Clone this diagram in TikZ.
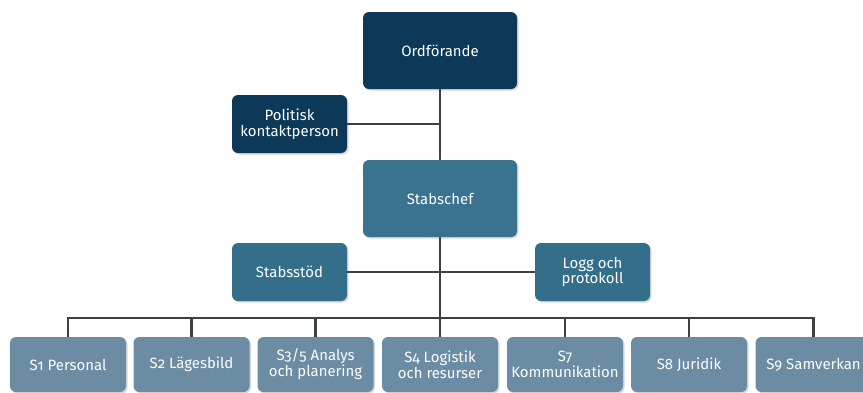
\documentclass[tikz,border=0pt]{standalone}
\usepackage{fontspec}
\setmainfont{Fira Sans}[Numbers=OldStyle]
\usetikzlibrary{shadows}
\definecolor{navy}{HTML}{0B3957}
\definecolor{midblue}{HTML}{3A7390}
\definecolor{supblue}{HTML}{336F8A}
\definecolor{lightblue}{HTML}{6B8CA3}
\definecolor{linegray}{HTML}{3B4144}
\tikzset{
  box/.style={draw=none, rounded corners=6bp, text=white, align=center,
    font=\fontsize{15}{16}\selectfont, inner sep=1bp,
    drop shadow={opacity=0.3, shadow xshift=1.5bp, shadow yshift=-1.5bp}},
  bigbox/.style={box, fill=navy, minimum width=154bp, minimum height=77bp},
  chiefbox/.style={box, fill=midblue, minimum width=154bp, minimum height=77bp},
  sidebox/.style={box, minimum width=115bp, minimum height=58bp},
  unitbox/.style={box, fill=lightblue, minimum width=116bp, minimum height=55bp},
  conn/.style={draw=linegray, line width=2.6bp}
}
\begin{document}
\begin{tikzpicture}[x=1bp,y=-1bp]
\useasboundingbox (0,0) rectangle (863,392);
\node[bigbox] (ord) at (440,50.5) {Ordförande};
\node[sidebox, fill=navy] (pol) at (289.5,124) {Politisk\\kontaktperson};
\node[chiefbox] (chef) at (440,198.5) {Stabschef};
\node[sidebox, fill=supblue] (stod) at (289.5,272) {Stabsstöd};
\node[sidebox, fill=supblue] (logg) at (592.5,272) {Logg och\\protokoll};
\node[unitbox] (s1) at (68,364.5) {S1 Personal};
\node[unitbox] (s2) at (191.5,364.5) {S2 Lägesbild};
\node[unitbox] (s3) at (315.5,364.5) {S3/5 Analys\\och planering};
\node[unitbox] (s4) at (440,364.5) {S4 Logistik\\och resurser};
\node[unitbox] (s7) at (565,364.5) {S7\\Kommunikation};
\node[unitbox] (s8) at (689,364.5) {S8 Juridik};
\node[unitbox] (s9) at (813.5,364.5) {S9 Samverkan};
\coordinate (busy) at (0,318);
\draw[conn] (ord.south) -- (chef.north);
\draw[conn] (pol.east) -- (ord.south |- pol.east);
\draw[conn] (chef.south) -- (chef.south |- busy);
\draw[conn] (stod.east) -- (logg.west);
\draw[conn, line cap=rect] (s1.north |- busy) -- (s9.north |- busy);
\foreach \n in {s1,s2,s3,s4,s7,s8,s9}{
  \draw[conn] (\n.north |- busy) -- (\n.north);
}
\end{tikzpicture}
\end{document}
